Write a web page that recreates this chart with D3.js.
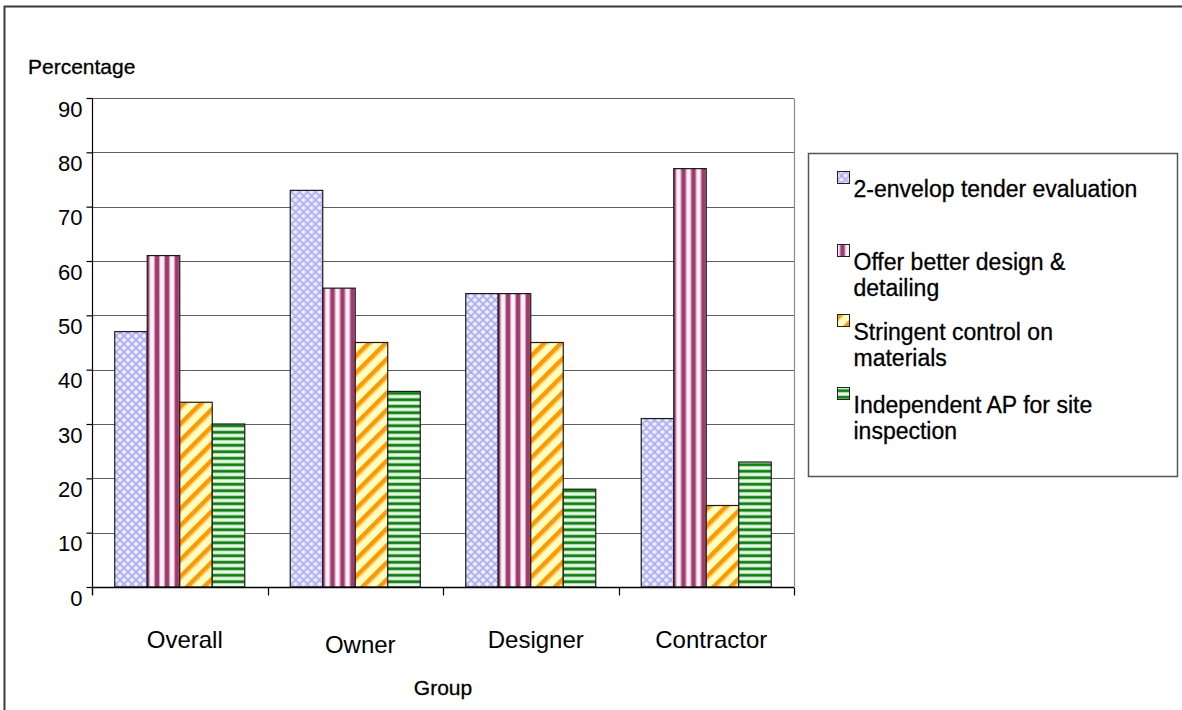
<!DOCTYPE html>
<html>
<head>
<meta charset="utf-8">
<script src="https://cdn.jsdelivr.net/npm/d3@7"></script>
<style>
  html, body { margin: 0; padding: 0; background: #fff; }
  svg { display: block; font-family: "Liberation Sans", Arial, sans-serif; }
</style>
</head>
<body>
<svg id="chart" width="1182" height="710"></svg>
<script>
// Survey results: share of respondents (%) supporting each measure, by group
const groups = ["Overall", "Owner", "Designer", "Contractor"];
const measures = [
  "2-envelop tender evaluation",
  "Offer better design & detailing",
  "Stringent control on materials",
  "Independent AP for site inspection"
];
const twoEnvelop   = [47, 73, 54, 31];
const betterDesign = [61, 55, 54, 77];
const stringent    = [34, 45, 45, 15];
const independent  = [30, 36, 18, 23];
const yTicks = [0, 10, 20, 30, 40, 50, 60, 70, 80, 90];
const legendLines = [
  ["2-envelop tender evaluation"],
  ["Offer better design &", "detailing"],
  ["Stringent control on", "materials"],
  ["Independent AP for site", "inspection"]
];

const seriesValues = [twoEnvelop, betterDesign, stringent, independent];

const svg = d3.select("#chart");
const defs = svg.append("defs");

// ---- fill patterns ----
// lavender diagonal lattice
const p0 = defs.append("pattern").attr("id", "pat0").attr("patternUnits", "userSpaceOnUse")
  .attr("width", 8).attr("height", 8);
p0.append("rect").attr("width", 8).attr("height", 8).attr("fill", "#ececff");
p0.append("path").attr("d", "M0,0 L8,8 M8,0 L0,8 M-4,4 L4,-4 M4,12 L12,4 M-4,4 L4,12 M4,-4 L12,4")
  .attr("stroke", "#adadf2").attr("stroke-width", 1.7);

// maroon vertical stripes
const g1 = defs.append("linearGradient").attr("id", "grad1").attr("x1", 0).attr("x2", 1).attr("y1", 0).attr("y2", 0);
[["0%", "#ffffff"], ["18%", "#f4dde8"], ["35%", "#a64477"], ["50%", "#993366"], ["65%", "#a64477"], ["82%", "#f4dde8"], ["100%", "#ffffff"]]
  .forEach(([o, c]) => g1.append("stop").attr("offset", o).attr("stop-color", c));
const p1 = defs.append("pattern").attr("id", "pat1").attr("patternUnits", "userSpaceOnUse")
  .attr("width", 10).attr("height", 10);
p1.append("rect").attr("width", 10).attr("height", 10).attr("fill", "url(#grad1)");

// orange diagonal stripes on pale yellow
const p2 = defs.append("pattern").attr("id", "pat2").attr("patternUnits", "userSpaceOnUse")
  .attr("width", 12).attr("height", 12).attr("patternTransform", "rotate(45)");
p2.append("rect").attr("width", 12).attr("height", 12).attr("fill", "#ffffc4");
p2.append("rect").attr("x", 0).attr("width", 4.5).attr("height", 12).attr("fill", "#ff9900");
p2.append("rect").attr("x", 4.5).attr("width", 1).attr("height", 12).attr("fill", "#ffcc66");

// green horizontal stripes
const g3 = defs.append("linearGradient").attr("id", "grad3").attr("x1", 0).attr("x2", 0).attr("y1", 0).attr("y2", 1);
[["0%", "#ffffff"], ["20%", "#cfe8cf"], ["38%", "#0a840a"], ["50%", "#008000"], ["62%", "#0a840a"], ["80%", "#cfe8cf"], ["100%", "#ffffff"]]
  .forEach(([o, c]) => g3.append("stop").attr("offset", o).attr("stop-color", c));
const p3 = defs.append("pattern").attr("id", "pat3").attr("patternUnits", "userSpaceOnUse")
  .attr("width", 6.5).attr("height", 6.5);
p3.append("rect").attr("width", 6.5).attr("height", 6.5).attr("fill", "url(#grad3)");

const fills = ["url(#pat0)", "url(#pat1)", "url(#pat2)", "url(#pat3)"];

// ---- outer frame ----
svg.append("rect").attr("x", 4.5).attr("y", 6.5).attr("width", 1200).attr("height", 720)
  .attr("fill", "none").attr("stroke", "#3a3a3a").attr("stroke-width", 2);

// ---- scales ----
const plotLeft = 92, plotRight = 794, plotTop = 98, plotBottom = 587;
const x0 = d3.scaleBand().domain(groups).range([plotLeft, plotRight]).padding(0);
const x1 = d3.scaleBand().domain(d3.range(measures.length)).range([0, x0.bandwidth()])
  .paddingInner(0).paddingOuter(0.7);
const y = d3.scaleLinear().domain([0, 90]).range([plotBottom, plotTop]);

// gridlines
svg.append("g").selectAll("line").data(yTicks.filter(d => d > 0)).join("line")
  .attr("x1", plotLeft).attr("x2", plotRight)
  .attr("y1", d => Math.round(y(d)) + 0.5).attr("y2", d => Math.round(y(d)) + 0.5)
  .attr("stroke", "#5e5e5e").attr("stroke-width", 1.2);
// plot area right edge
svg.append("line").attr("x1", plotRight + 0.5).attr("x2", plotRight + 0.5)
  .attr("y1", Math.round(y(90)) + 0.5).attr("y2", plotBottom)
  .attr("stroke", "#8a8a8a").attr("stroke-width", 1.2);

// bars
const gGroups = svg.append("g").selectAll("g").data(groups).join("g")
  .attr("transform", d => `translate(${x0(d)},0)`);
gGroups.selectAll("rect")
  .data((g, gi) => seriesValues.map((vals, si) => ({ si, v: vals[gi] })))
  .join("rect")
  .attr("x", d => x1(d.si))
  .attr("width", x1.bandwidth())
  .attr("y", d => y(d.v))
  .attr("height", d => y(0) - y(d.v))
  .attr("fill", d => fills[d.si])
  .attr("stroke", "#1a1a1a").attr("stroke-width", 1.2);

// y axis
const yAxis = svg.append("g").attr("transform", `translate(${plotLeft + 0.5},0)`)
  .call(d3.axisLeft(y).tickValues(yTicks).tickSize(6).tickPadding(0).tickFormat(d3.format("d")));
yAxis.select(".domain").attr("stroke", "#000").attr("stroke-width", 1.2)
  .attr("d", `M0,${y(90)}V${plotBottom + 8}`);
yAxis.selectAll(".tick line").attr("stroke", "#000").attr("stroke-width", 1.2);
yAxis.selectAll(".tick text")
  .attr("x", -10).attr("dy", null).attr("y", 18)
  .attr("font-size", 22).attr("fill", "#000")
  .attr("font-family", "'Liberation Sans', Arial, sans-serif");

// x axis
const xAxis = svg.append("g").attr("transform", `translate(0,${plotBottom + 0.5})`);
xAxis.append("line").attr("x1", plotLeft).attr("x2", plotRight).attr("stroke", "#000").attr("stroke-width", 1.4);
const boundaries = groups.map(g => x0(g)).concat([plotRight]);
xAxis.selectAll("line.tk").data(boundaries).join("line").attr("class", "tk")
  .attr("x1", d => Math.round(d) + 0.5).attr("x2", d => Math.round(d) + 0.5)
  .attr("y1", 0).attr("y2", 8).attr("stroke", "#000").attr("stroke-width", 1.2);
const labelDrop = [0, 5, 0, 0];
xAxis.selectAll("text").data(groups).join("text")
  .attr("x", d => x0(d) + x0.bandwidth() / 2 + 5)
  .attr("y", (d, i) => 60 + labelDrop[i])
  .attr("text-anchor", "middle").attr("font-size", 24).attr("fill", "#000")
  .text(d => d);

// axis titles
svg.append("text").attr("x", 28).attr("y", 74).attr("font-size", 21)
  .attr("stroke", "#000").attr("stroke-width", 0.3).text("Percentage");
svg.append("text").attr("x", 443).attr("y", 695).attr("text-anchor", "middle")
  .attr("font-size", 21).attr("stroke", "#000").attr("stroke-width", 0.3).text("Group");

// legend
const legend = svg.append("g");
legend.append("rect").attr("x", 808.5).attr("y", 153.5).attr("width", 369).attr("height", 323)
  .attr("fill", "#fff").attr("stroke", "#555").attr("stroke-width", 1.5);
const legendTop = [171, 244, 314, 387];
const items = legend.selectAll("g.item").data(measures).join("g").attr("class", "item")
  .attr("transform", (d, i) => `translate(837.5,${legendTop[i] + 0.5})`);
items.append("rect").attr("width", 12).attr("height", 12)
  .attr("fill", (d, i) => fills[i]).attr("stroke", "#222").attr("stroke-width", 1);
items.each(function (d, i) {
  const t = d3.select(this).append("text").attr("x", 16).attr("y", 25.5)
    .attr("font-size", 23).attr("fill", "#000").attr("stroke", "#000").attr("stroke-width", 0.3);
  legendLines[i].forEach((line, li) => {
    t.append("tspan").attr("x", 16).attr("dy", li === 0 ? 0 : 25.7).text(line);
  });
});
</script>
</body>
</html>
